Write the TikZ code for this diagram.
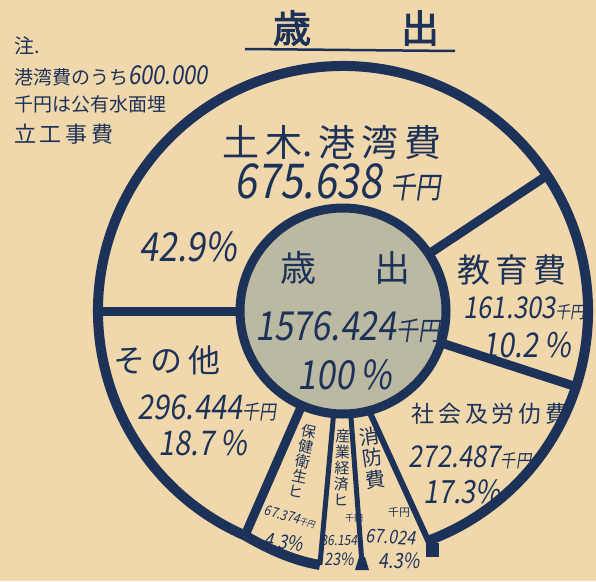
\documentclass[tikz,border=0pt]{standalone}
\usepackage{fontspec}
\usetikzlibrary{calc}
\setmainfont{Noto Sans CJK JP}
\newfontfamily\jpf{Noto Sans CJK JP}
\newfontfamily\numf[FakeSlant=0.15,FakeStretch=0.85]{Noto Sans CJK JP}
\newfontfamily\titlef[FakeBold=2.5]{Noto Sans CJK JP}
\newcommand\myfs[1]{\fontsize{#1}{#1}\selectfont}
\definecolor{paper}{RGB}{240,215,172}
\definecolor{ink}{RGB}{28,50,88}
\definecolor{shade}{RGB}{188,185,163}
\begin{document}
\begin{tikzpicture}[x=1pt,y=-1pt,
  every node/.style={text=ink,inner sep=0pt},
  ring/.style={draw=ink,line width=10pt},
  spoke/.style={draw=ink,line width=9pt},
  thinspoke/.style={draw=ink,line width=5pt},
]
\fill[paper] (0,0) rectangle (596,581);
\useasboundingbox (0,0) rectangle (596,581);
\coordinate (C) at (343,311);
% title
\node (t1) at (292,28) {\titlef\myfs{38}歳};
\node (t2) at (420,28) {\titlef\myfs{38}出};
\coordinate (u1) at (245,49);
\coordinate (u2) at (455,51);
\draw[ink,line width=2.5pt] (u1) -- (u2);
% note
\node[anchor=west] (n1) at (14,46) {\jpf\myfs{20}注.};
\node[anchor=west] (n2) at (14,76) {\jpf\myfs{19}港湾費のうち{\numf\myfs{26}600.000}};
\node[anchor=west] (n3) at (14,104) {\jpf\myfs{19}千円は公有水面埋};
\node[anchor=west] (n4) at (14,134) {\jpf\myfs{22}立\,工\,事\,費};
% spokes
\coordinate (s1) at ($(C)+(180:245)$);
\coordinate (s2) at ($(C)+(-33.6:245)$);
\coordinate (s3) at ($(C)+(18:245)$);
\coordinate (s4a) at (365,402);
\coordinate (s4b) at (432,549);
\coordinate (s5) at ($(C)+(85.7:253)$);
\coordinate (s6) at ($(C)+(95.2:255)$);
\coordinate (s7) at ($(C)+(113.6:245)$);
\draw[spoke] (C) -- (s1);
\draw[spoke] (C) -- (s2);
\draw[spoke] (C) -- (s3);
\draw[draw=ink,line width=6pt] (s4a) -- (s4b);
\draw[thinspoke] (C) -- (s5);
\draw[thinspoke] (C) -- (s6);
\draw[spoke] (C) -- (s7);
% outer ring
\draw[ring] (s7) arc[start angle=113.6,end angle=429.6,radius=245];
\draw[ring] (s7) .. controls (270,550) and (295,561) .. (s6);
% feet
\fill[ink] (426,543) rectangle (439,557);
\fill[ink] (355,570) -- (369,570) -- (365,557) -- (359,557) -- cycle;
% inner circle
\draw[draw=ink,line width=9pt,fill=shade] (C) circle[radius=103];
% center text
\node (c1) at (298,268) {\jpf\myfs{36}歳};
\node (c2) at (392,268) {\jpf\myfs{36}出};
\node (c3) at (348,327) {\numf\myfs{40}1576.424{\myfs{26}千円}};
\node (c4) at (345,375) {\numf\myfs{40}100\,\%};
% 土木
\node (a1) at (332,142) {\jpf\myfs{37}土\,木.\,港\,湾\,費};
\node (a2) at (338,182) {\numf\myfs{48}675.638\,{\myfs{30}千円}};
\node (a3) at (188,247) {\numf\myfs{40}42.9\%};
% 教育
\node (b1) at (512,270) {\jpf\myfs{33}教\,育\,費};
\node (b2) at (524,308) {\numf\myfs{30}161.303{\myfs{17}千円}};
\node (b3) at (527,345) {\numf\myfs{34}10.2\,\%};
% その他
\node (d1) at (167,360) {\jpf\myfs{32}そ\,の\,他};
\node (d2) at (207,408) {\numf\myfs{34}296.444{\myfs{20}千円}};
\node (d3) at (203,443) {\numf\myfs{34}18.7\,\%};
% 社会及労仂費
\node (e1) at (490,414) {\jpf\myfs{23}社\,会\,及\,労\,仂\,費};
\node (e2) at (470,457) {\numf\myfs{30}272.487{\myfs{18}千円}};
\node (e3) at (462,492) {\numf\myfs{32}17.3\%};
% 保健衛生
\node[align=center,rotate=-12,font=\jpf\fontsize{15}{15.5}\selectfont] (f1) at (303,461) {保\\健\\衛\\生\\ヒ};
\node[rotate=-15] (f2) at (290,517) {\numf\myfs{14}67.374{\myfs{9}千円}};
\node[rotate=-8] (f3) at (284,542) {\numf\myfs{20}4.3\%};
% 産業経済
\node[align=center,rotate=-2,font=\jpf\fontsize{15}{16}\selectfont] (g1) at (342,467) {産\\業\\経\\済\\ヒ};
\node (g2) at (354,518) {\jpf\myfs{9}千円};
\node (g3) at (339,540) {\numf\myfs{14}36.154};
\node (g4) at (339,559) {\numf\myfs{17}23\%};
% 消防費
\node[align=center,rotate=8,font=\jpf\fontsize{20}{22}\selectfont] (h1) at (372,458) {消\\防\\費};
\node (h2) at (399,512) {\jpf\myfs{11}千円};
\node[rotate=-4] (h3) at (391,537) {\numf\myfs{19}67.024};
\node (h4) at (399,561) {\numf\myfs{21}4.3\%};
\end{tikzpicture}
\end{document}
